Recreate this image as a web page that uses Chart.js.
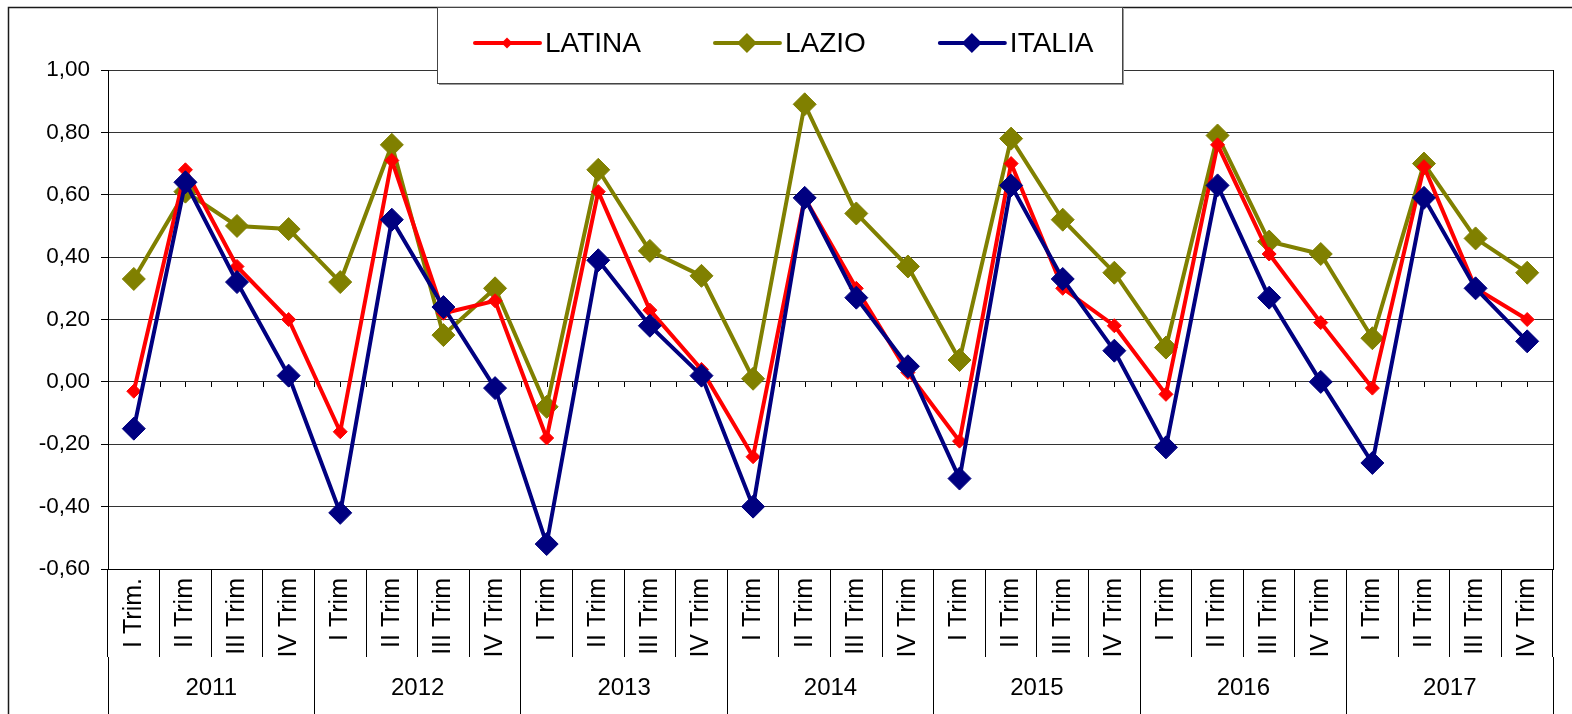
<!DOCTYPE html>
<html lang="it">
<head>
<meta charset="utf-8">
<title>LATINA - LAZIO - ITALIA</title>
<script src="https://cdn.jsdelivr.net/npm/chart.js@4.4.1/dist/chart.umd.min.js"></script>
<style>
    html, body { margin: 0; padding: 0; background: #fff; overflow: hidden; }
    canvas { display: block; }
</style>
</head>
<body>
<canvas id="trendChart" width="1572" height="714"></canvas>
<script>
/* ==========================================================
   DATI
========================================================== */

const trimestri = [
    "I Trim.", "II Trim", "III Trim", "IV Trim",
    "I Trim", "II Trim", "III Trim", "IV Trim",
    "I Trim", "II Trim", "III Trim", "IV Trim",
    "I Trim", "II Trim", "III Trim", "IV Trim",
    "I Trim", "II Trim", "III Trim", "IV Trim",
    "I Trim", "II Trim", "III Trim", "IV Trim",
    "I Trim", "II Trim", "III Trim", "IV Trim"
];

const anni = ["2011", "2012", "2013", "2014", "2015", "2016", "2017"];

const latina = [
    -0.03, 0.68, 0.37, 0.20,
    -0.16, 0.71, 0.22, 0.26,
    -0.18, 0.61, 0.23, 0.04,
    -0.24, 0.59, 0.30, 0.03,
    -0.19, 0.70, 0.30, 0.18,
    -0.04, 0.76, 0.41, 0.19,
    -0.02, 0.69, 0.30, 0.20
];

const lazio = [
    0.33, 0.61, 0.50, 0.49,
    0.32, 0.76, 0.15, 0.30,
    -0.08, 0.68, 0.42, 0.34,
    0.01, 0.89, 0.54, 0.37,
    0.07, 0.78, 0.52, 0.35,
    0.11, 0.79, 0.45, 0.41,
    0.14, 0.70, 0.46, 0.35
];

const italia = [
    -0.15, 0.64, 0.32, 0.02,
    -0.42, 0.52, 0.24, -0.02,
    -0.52, 0.39, 0.18, 0.02,
    -0.40, 0.59, 0.27, 0.05,
    -0.31, 0.63, 0.33, 0.10,
    -0.21, 0.63, 0.27, 0.00,
    -0.26, 0.59, 0.30, 0.13
];

const FONT = "'Liberation Sans', Arial, sans-serif";

function formatVirgola(v) {
    if (Math.abs(v) < 1e-9) v = 0;
    return v.toFixed(2).replace(".", ",");
}

/* ==========================================================
   CORNICE, TACCHE SULLO ZERO
========================================================== */

const cornice = {

    id: "cornice",

    beforeDraw(chart) {
        const ctx = chart.ctx;
        ctx.save();
        ctx.strokeStyle = "#1a1a1a";
        ctx.lineWidth = 1.5;
        ctx.beginPath();
        ctx.moveTo(8.5, chart.height);
        ctx.lineTo(8.5, 7.5);
        ctx.lineTo(chart.width, 7.5);
        ctx.stroke();
        ctx.restore();
    },

    beforeDatasetsDraw(chart) {
        const { ctx, chartArea, scales } = chart;
        const y0 = Math.round(scales.y.getPixelForValue(0));
        ctx.save();
        ctx.strokeStyle = "#000";
        ctx.lineWidth = 1;
        ctx.beginPath();
        ctx.moveTo(Math.round(chartArea.right) + 0.5, chartArea.top);
        ctx.lineTo(Math.round(chartArea.right) + 0.5, chartArea.bottom);
        for (let i = 0; i <= trimestri.length * 2; i++) {
            const px = Math.round(scales.x.getPixelForValue(i / 2 - 0.5)) + 0.5;
            ctx.moveTo(px, y0);
            ctx.lineTo(px, y0 + 5);
        }
        ctx.stroke();
        ctx.restore();
    }

};

/* ==========================================================
   LEGENDA (riquadro in alto)
========================================================== */

const legenda = {

    id: "legenda",

    afterDraw(chart) {
        const ctx = chart.ctx;
        const box = { x: 437, y: 7, w: 685, h: 76 };
        const cy = 43;

        ctx.save();
        ctx.fillStyle = "#9a9a9a";
        ctx.fillRect(box.x + 2, box.y + 2, box.w, box.h);
        ctx.fillStyle = "#fff";
        ctx.fillRect(box.x, box.y, box.w, box.h);
        ctx.strokeStyle = "#444";
        ctx.lineWidth = 1;
        ctx.strokeRect(box.x + 0.5, box.y + 0.5, box.w, box.h);

        ctx.font = "28px " + FONT;
        ctx.textBaseline = "middle";

        let sx = box.x + 38;

        chart.data.datasets.forEach(ds => {
            const r = ds.pointRadius - 1.5;
            ctx.strokeStyle = ds.borderColor;
            ctx.fillStyle = ds.borderColor;
            ctx.lineWidth = 4;
            ctx.lineCap = "round";
            ctx.beginPath();
            ctx.moveTo(sx, cy);
            ctx.lineTo(sx + 65, cy);
            ctx.stroke();

            ctx.beginPath();
            ctx.moveTo(sx + 32, cy - r);
            ctx.lineTo(sx + 32 + r, cy);
            ctx.lineTo(sx + 32, cy + r);
            ctx.lineTo(sx + 32 - r, cy);
            ctx.closePath();
            ctx.fill();

            ctx.fillStyle = "#000";
            ctx.fillText(ds.label, sx + 70, cy + 1);
            sx += 70 + ctx.measureText(ds.label).width + 74;
        });

        ctx.restore();
    }

};

/* ==========================================================
   GRAFICO
========================================================== */

function serie(label, data, colore, raggio, ordine) {
    return {
        label,
        data,
        borderColor: colore,
        backgroundColor: colore,
        borderWidth: 4,
        pointStyle: "rectRot",
        pointRadius: raggio,
        pointBackgroundColor: colore,
        pointBorderColor: colore,
        pointBorderWidth: 1,
        tension: 0,
        order: ordine
    };
}

const ctx = document.getElementById("trendChart").getContext("2d");

const trendChart = new Chart(ctx, {

    type: "line",

    data: {
        labels: trimestri,
        datasets: [
            serie("LATINA", latina, "#ff0000", 7, 2),
            serie("LAZIO", lazio, "#808000", 11.5, 3),
            serie("ITALIA", italia, "#000080", 11.5, 1)
        ]
    },

    options: {

        responsive: false,
        animation: false,
        devicePixelRatio: 1,

        layout: {
            padding: { top: 70, right: 19, bottom: 0, left: 0 }
        },

        plugins: {
            legend: { display: false },
            tooltip: { enabled: false }
        },

        scales: {

            x: {
                type: "category",
                offset: true,
                weight: 0,
                grid: {
                    offset: true,
                    drawOnChartArea: false,
                    tickLength: 88,
                    color: "#000",
                    lineWidth: 1
                },
                border: { display: true, color: "#000", width: 1 },
                ticks: {
                    autoSkip: false,
                    maxRotation: 90,
                    minRotation: 90,
                    padding: -79,
                    color: "#000",
                    font: { family: FONT, size: 25 }
                },
                afterFit(scale) { scale.height = 88; }
            },

            x2: {
                type: "category",
                labels: anni,
                position: "bottom",
                offset: true,
                weight: 1,
                grid: {
                    offset: true,
                    drawOnChartArea: false,
                    tickLength: 57,
                    color: "#000",
                    lineWidth: 1
                },
                border: { display: false },
                ticks: {
                    autoSkip: false,
                    maxRotation: 0,
                    padding: -40,
                    color: "#000",
                    font: { family: FONT, size: 24 }
                },
                afterFit(scale) { scale.height = 57; }
            },

            y: {
                min: -0.6,
                max: 1.0,
                grid: {
                    color: "#333",
                    lineWidth: 1,
                    tickLength: 7,
                    tickColor: "#000"
                },
                border: { display: true, color: "#000", width: 1 },
                ticks: {
                    stepSize: 0.2,
                    padding: 11,
                    color: "#000",
                    font: { family: FONT, size: 22.5 },
                    callback: v => formatVirgola(v)
                },
                afterFit(scale) { scale.width = 108; }
            }

        }

    },

    plugins: [cornice, legenda]

});
</script>
</body>
</html>
